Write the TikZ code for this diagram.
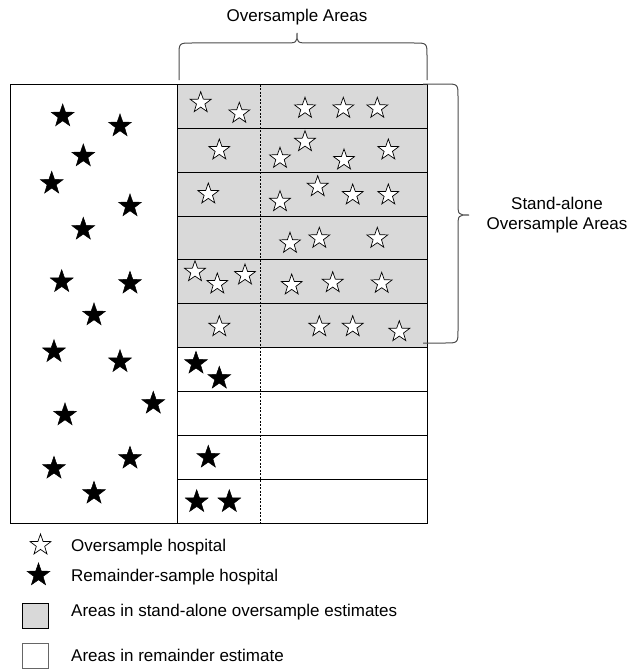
\documentclass[tikz,border=0pt]{standalone}
\usepackage{fontspec}
\setmainfont{Liberation Sans}
\usetikzlibrary{shapes.geometric}
\definecolor{areagray}{HTML}{D9D9D9}
\begin{document}
\begin{tikzpicture}[x=1pt,y=-1pt,
  wstar/.style={star,star points=5,star point ratio=2.5,minimum size=22pt,inner sep=0pt,draw=black,fill=white,line width=0.7pt},
  bstar/.style={star,star points=5,star point ratio=2.5,minimum size=24pt,inner sep=0pt,draw=black,fill=black,line width=0.5pt},
  gridline/.style={draw=black,line width=1pt},
  brace/.style={draw=black!70,line width=1pt},
  lbl/.style={font=\fontsize{17}{20}\selectfont,inner sep=0pt},
  leg/.style={font=\fontsize{17}{20}\selectfont,anchor=west,inner sep=0pt}]
\useasboundingbox (0,0) rectangle (631,669);
% rows
\foreach \i in {0,...,5}{
  \fill[areagray] (177,{84.5+43.85*\i}) rectangle (427.5,{84.5+43.85*(\i+1)});
}
\draw[gridline] (10,84.5) rectangle (177,523);
\draw[gridline] (177,84.5) rectangle (427.5,523);
\foreach \i in {1,...,9}{
  \draw[gridline] (177,{84.5+43.85*\i}) -- (427.5,{84.5+43.85*\i});
}
\coordinate (dtop) at (260,84.5);
\coordinate (dbot) at (260,523);
\draw[black,line width=0.6pt,dash pattern=on 2pt off 1.5pt] (dtop) -- (dbot);
% white stars
\foreach \p [count=\i] in {(200.7,102.7),(239.3,113.3),(305,108.3),(343.3,108.3),(377.3,108.3),
  (219.3,150),(280,158.3),(305,141.7),(344,160),(388.3,150),
  (208.3,194),(280,201.7),(317.7,186.7),(352.7,195),(388.3,195),
  (290,243.3),(319.3,238.3),(377.3,238.3),
  (195,271.7),(217.3,284),(245,275),(291.7,285),(332.7,282.7),(381.7,283.3),
  (219.3,326.7),(319.3,326.7),(352.7,326.7),(399.3,331.7)}
  \node[wstar] (w\i) at \p {};
% black stars
\foreach \p [count=\i] in {(196,363.3),(219.3,378.3),(208.3,457.3),(196.7,501.7),(229.3,501.7),
  (62.7,116),(120,126),(83.3,156),(51.7,183.3),(130,206),(83.3,229.3),
  (61.7,281.7),(130,283.3),(94,315),(54,351.7),(120,361.7),(153.3,403.3),
  (65,415),(130,458.3),(54,468.3),(94,493.3)}
  \node[bstar] (b\i) at \p {};
% braces
\draw[brace] (179,80) -- (179,56) .. controls (179,43) .. (192,43) -- (284,43)
  .. controls (297,43) .. (297,33) .. controls (297,43) .. (310,43) -- (414,43)
  .. controls (427,43) .. (427,56) -- (427,80);
\draw[brace] (423,84) -- (445,84) .. controls (458,84) .. (458,97) -- (458,202)
  .. controls (458,215) .. (469,215) .. controls (458,215) .. (458,228) -- (458,330)
  .. controls (458,343) .. (445,343) -- (423,343);
\node[lbl] (top) at (297,17) {Oversample Areas};
\node[lbl,align=center] (side) at (557,215) {Stand-alone\\Oversample Areas};
% legend
\node[wstar] (lw) at (40.5,545) {};
\node[bstar] (lb) at (38.5,575) {};
\node[draw=black,fill=areagray,line width=0.8pt,minimum width=26pt,minimum height=25pt,inner sep=0pt] (lg) at (35.3,615.8) {};
\node[draw=black!60,fill=white,line width=0.8pt,minimum width=26pt,minimum height=25pt,inner sep=0pt] (lwb) at (35.3,655.5) {};
\node[leg] (t1) at (71,547) {Oversample hospital};
\node[leg] (t2) at (71,577) {Remainder-sample hospital};
\node[leg] (t3) at (71,612) {Areas in stand-alone oversample estimates};
\node[leg] (t4) at (71,655) {Areas in remainder estimate};
\end{tikzpicture}
\end{document}
